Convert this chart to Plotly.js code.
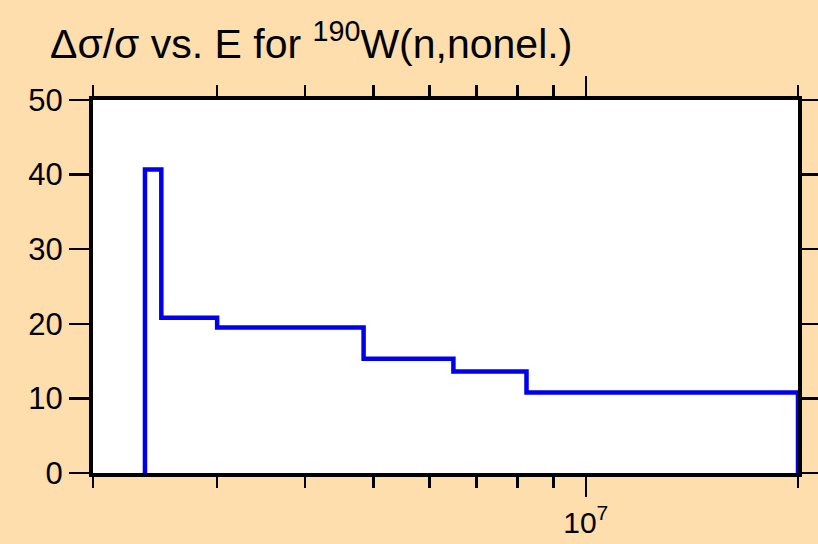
<!DOCTYPE html>
<html>
<head>
<meta charset="utf-8">
<script src="https://cdn.plot.ly/plotly-3.0.1.min.js"></script>
<style>html,body{margin:0;padding:0;background:#FFDEAD;}</style>
</head>
<body>
<div id="chart" style="width:818px;height:544px;"></div>
<script>
// Energy bin edges (eV) and relative uncertainty (%) per bin
const binEdges = [2.37e6, 2.5e6, 3e6, 4.84e6, 6.49e6, 8.24e6, 2e7];
const binValues = [40.7, 20.8, 19.5, 15.3, 13.6, 10.8];
const majorTickVals = [1e7];
const majorTickText = ['10<sup>7</sup>'];
const minorTickVals = [2e6, 3e6, 4e6, 5e6, 6e6, 7e6, 8e6, 9e6, 2e7];
const yTickVals = [0, 10, 20, 30, 40, 50];

// build step outline: start at 0, steps, end back at 0
const xs = [binEdges[0]];
const ys = [0];
for (let i = 0; i < binValues.length; i++) { xs.push(binEdges[i]); ys.push(binValues[i]); }
xs.push(binEdges[binEdges.length - 1]); ys.push(binValues[binValues.length - 1]);
xs.push(binEdges[binEdges.length - 1]); ys.push(0);

const trace = {
  x: xs, y: ys, type: 'scatter', mode: 'lines',
  line: {shape: 'hv', color: '#0000EE', width: 4.5},
  hoverinfo: 'skip'
};

const font = {family: 'Liberation Sans, Arial, sans-serif', color: '#000', size: 31};

const layout = {
  width: 818, height: 544,
  paper_bgcolor: '#FFDEAD', plot_bgcolor: '#FFFFFF',
  margin: {l: 93, r: 20, t: 100, b: 71},
  showlegend: false,
  font: font,
  title: {
    text: 'Δσ/σ vs. E for <sup>190</sup>W(n,nonel.)',
    font: {family: 'Liberation Sans, Arial, sans-serif', size: 41, color: '#000'},
    xref: 'container', yref: 'container',
    x: 50/818, xanchor: 'left', y: 1 - 44/544, yanchor: 'middle'
  },
  xaxis: {
    type: 'log',
    range: [Math.log10(2e6), Math.log10(2e7)],
    tickmode: 'array', tickvals: majorTickVals, ticktext: majorTickText,
    ticks: 'outside', ticklen: 20, tickwidth: 2.5, tickcolor: '#000',
    minor: {tickmode: 'array', tickvals: minorTickVals, ticks: 'outside', ticklen: 11, tickwidth: 2.5, tickcolor: '#000', showgrid: false},
    showline: true, linewidth: 4, linecolor: '#000', mirror: 'allticks',
    showgrid: false, zeroline: false,
    tickfont: {family: 'Liberation Sans, Arial, sans-serif', color: '#000', size: 30}
  },
  yaxis: {
    range: [0, 50],
    tickmode: 'array', tickvals: yTickVals,
    ticks: 'outside', ticklen: 20, tickwidth: 2.5, tickcolor: '#000',
    showline: true, linewidth: 4, linecolor: '#000', mirror: 'allticks',
    showgrid: false, zeroline: false,
    tickfont: font
  }
};

Plotly.newPlot('chart', [trace], layout, {staticPlot: true});
</script>
</body>
</html>
